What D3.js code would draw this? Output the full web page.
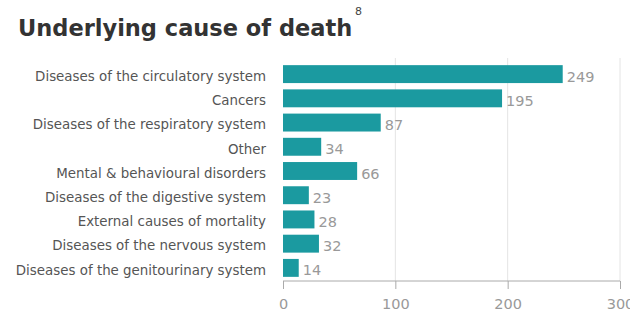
<!DOCTYPE html>
<html>
<head>
<meta charset="utf-8">
<script src="https://cdn.jsdelivr.net/npm/d3@7"></script>
<style>
body{margin:0;background:#fff;}
svg{font-family:"DejaVu Sans",Verdana,sans-serif;}
</style>
</head>
<body>
<div id="chart"></div>
<script>
var causes = ["Diseases of the circulatory system","Cancers","Diseases of the respiratory system","Other","Mental & behavioural disorders","Diseases of the digestive system","External causes of mortality","Diseases of the nervous system","Diseases of the genitourinary system"];
var deaths = [249,195,87,34,66,23,28,32,14];
var xTicks = [0,100,200,300];

var w = 630, h = 313;
var svg = d3.select("#chart").append("svg").attr("width",w).attr("height",h);

// title + footnote marker
svg.append("text").attr("x",18).attr("y",36)
    .attr("font-size","22.5px").attr("font-weight","bold").attr("fill","#333")
    .text("Underlying cause of death");
svg.append("text").attr("x",355).attr("y",15)
    .attr("font-size","11px").attr("fill","#444").text("8");

var x = d3.scaleLinear().domain([0,300]).range([283,620]);
var y = d3.scaleBand().domain(causes).range([62,280]).paddingInner(0.26).paddingOuter(0.13);

// grid
svg.append("g").selectAll("line").data(xTicks.slice(1)).enter().append("line")
    .attr("x1",function(d){return x(d)}).attr("x2",function(d){return x(d)})
    .attr("y1",58).attr("y2",281)
    .attr("stroke","#e4e4e4").attr("stroke-width",1);

var data = causes.map(function(c,i){return {cause:c,value:deaths[i]}});

svg.append("g").selectAll("rect").data(data).enter().append("rect")
    .attr("x",x(0)).attr("y",function(d){return y(d.cause)})
    .attr("width",function(d){return x(d.value)-x(0)})
    .attr("height",y.bandwidth())
    .attr("fill","#1b9aa0");

svg.append("g").selectAll("text").data(data).enter().append("text")
    .attr("x",function(d){return x(d.value)+4})
    .attr("y",function(d){return y(d.cause)+y.bandwidth()/2+2})
    .attr("dy","0.38em")
    .attr("font-size","14.5px").attr("fill","#999")
    .text(function(d){return d.value});

svg.append("g").selectAll("text").data(causes).enter().append("text")
    .attr("x",266).attr("y",function(d){return y(d)+y.bandwidth()/2+2})
    .attr("dy","0.36em").attr("text-anchor","end")
    .attr("font-size","13.4px").attr("fill","#555")
    .text(function(d){return d});

var axis = svg.append("g").attr("transform","translate(0,281)")
    .call(d3.axisBottom(x).tickValues(xTicks).tickSize(8).tickPadding(10));
axis.select(".domain").attr("stroke","#aaa").attr("d","M"+x(0)+",0H"+x(300));
axis.selectAll(".tick line").attr("stroke","#aaa");
axis.selectAll(".tick text").attr("fill","#999").attr("font-size","14.5px")
    .attr("font-family","\"DejaVu Sans\",Verdana,sans-serif");
</script>
</body>
</html>
